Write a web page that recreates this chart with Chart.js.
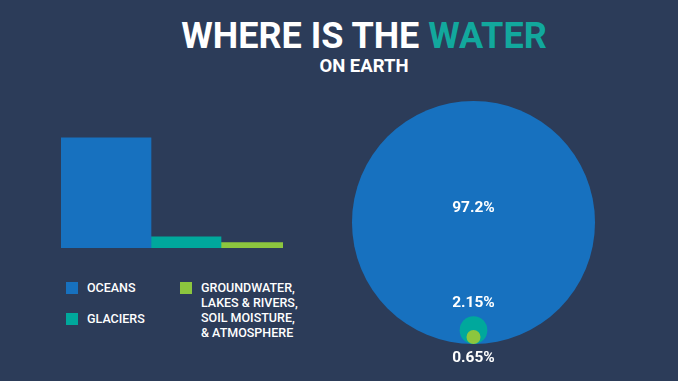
<!DOCTYPE html>
<html>
<head>
<meta charset="utf-8">
<script src="https://cdn.jsdelivr.net/npm/chart.js@4.4.1/dist/chart.umd.min.js"></script>
<style>
html,body{margin:0;padding:0;background:#2c3c59;width:678px;height:381px;overflow:hidden;font-family:Roboto,"Liberation Sans",sans-serif;}
#title{position:absolute;left:64px;width:600px;top:16px;text-align:center;color:#fff;font-weight:700;font-size:36px;line-height:40px;white-space:nowrap;}
#title .hl{color:#12a89d;}
#subtitle{position:absolute;left:64px;width:600px;top:55px;text-align:center;color:#fff;font-weight:700;font-size:18.5px;line-height:22px;}
#barCanvas{position:absolute;left:61px;top:136px;}
#bubbleCanvas{position:absolute;left:340px;top:90px;}
#legend{position:absolute;left:66px;top:280px;display:grid;grid-template-columns:114px auto;grid-template-rows:15px 15px;row-gap:16px;color:#fff;font-size:12.5px;font-weight:500;line-height:15px;}
.item{display:flex;align-items:flex-start;}
.sw{width:12px;height:12px;margin-top:1.5px;margin-right:9px;flex:none;}
</style>
</head>
<body>
<div id="title">WHERE IS THE <span class="hl">WATER</span></div>
<div id="subtitle">ON EARTH</div>
<canvas id="barCanvas" width="222" height="112"></canvas>
<canvas id="bubbleCanvas" width="267" height="285"></canvas>
<div id="legend"></div>
<script>
// ---- data ----
const categories = [['OCEANS'], ['GLACIERS'], ['GROUNDWATER,', 'LAKES & RIVERS,', 'SOIL MOISTURE,', '& ATMOSPHERE']];
const shares = [97.2, 2.15, 0.65];          // percent of Earth's water
const colors = ['#1771bf', '#00a89c', '#8cc63e'];
// ---- styles ----
const barWidths = [90, 70, 62];
const labelPlacement = ['inside', 'above', 'below'];

// power scale (compresses large values, like the original graphic)
class PowScale extends Chart.LinearScale {
  _f(v) { const p = this.options.exponent || 0.5; return Math.sign(v) * Math.pow(Math.abs(v), p); }
  getPixelForValue(value) {
    if (value === null || value === undefined) return NaN;
    const a = this._f(this.min), b = this._f(this.max);
    return this.getPixelForDecimal((this._f(value) - a) / (b - a));
  }
  getValueForPixel(pixel) {
    const d = this.getDecimalForPixel(pixel);
    const a = this._f(this.min), b = this._f(this.max);
    const t = a + d * (b - a);
    const p = this.options.exponent || 0.5;
    return Math.sign(t) * Math.pow(Math.abs(t), 1 / p);
  }
}
PowScale.id = 'pow';
PowScale.defaults = Chart.LinearScale.defaults;
Chart.register(PowScale);

// legend
const legend = document.getElementById('legend');
categories.forEach((lines, i) => {
  const it = document.createElement('div');
  it.className = 'item';
  if (lines.length === 1) { it.style.gridColumn = '1'; it.style.gridRow = String(i + 1); }
  else { it.style.gridColumn = '2'; it.style.gridRow = '1'; }
  const sw = document.createElement('div');
  sw.className = 'sw'; sw.style.background = colors[i];
  const tx = document.createElement('div');
  tx.innerHTML = lines.map(s => s.replace(/&/g, '&amp;')).join('<br>');
  it.appendChild(sw); it.appendChild(tx);
  legend.appendChild(it);
});

// bar chart
const totalW = barWidths.reduce((a, b) => a + b, 0);
let acc = 0;
const barDatasets = shares.map((v, i) => {
  const c = acc + barWidths[i] / 2; acc += barWidths[i];
  return {
    label: categories[i].join(' '),
    data: [{ x: c, y: v }],
    backgroundColor: colors[i],
    borderWidth: 0,
    barThickness: barWidths[i],
    grouped: false
  };
});
new Chart(document.getElementById('barCanvas'), {
  type: 'bar',
  data: { datasets: barDatasets },
  options: {
    responsive: false, animation: false, events: [], devicePixelRatio: 1,
    layout: { padding: 0 },
    plugins: { legend: { display: false }, tooltip: { enabled: false } },
    scales: {
      x: { type: 'linear', display: false, offset: false, min: 0, max: totalW },
      y: { type: 'pow', exponent: 0.6, display: false, min: 0, max: 100 }
    }
  }
});

// circles chart (scatter points sized by the power scale, resting on the baseline)
const labelPlugin = {
  id: 'shareLabels',
  afterDatasetsDraw(chart) {
    const ctx = chart.ctx;
    const meta = chart.getDatasetMeta(0);
    ctx.save();
    ctx.fillStyle = '#ffffff';
    ctx.font = '700 15.5px Roboto, "Liberation Sans", sans-serif';
    ctx.textAlign = 'center';
    ctx.textBaseline = 'middle';
    meta.data.forEach((el, i) => {
      const r = el.options.radius;
      let y;
      if (labelPlacement[i] === 'inside') y = el.y - 14;
      else if (labelPlacement[i] === 'above') y = el.y - r - 13;
      else y = el.y + r + 14;
      ctx.fillText(shares[i] + '%', el.x, y);
    });
    ctx.restore();
  }
};
const radiusFromScale = (ctx) => {
  const s = ctx.chart.scales.y;
  if (!s || !ctx.raw) return 0;
  const r = s.getPixelForValue(0) - s.getPixelForValue(ctx.raw.y);
  return isFinite(r) && r > 0 ? r : 0;
};
new Chart(document.getElementById('bubbleCanvas'), {
  type: 'scatter',
  data: {
    datasets: [{
      label: 'Share of water',
      data: shares.map(v => ({ x: 0, y: v })),
      pointBackgroundColor: colors,
      pointBorderWidth: 0,
      pointRadius: radiusFromScale,
      pointHoverRadius: radiusFromScale,
      pointHoverBorderWidth: 0,
      showLine: false,
      clip: false
    }]
  },
  options: {
    responsive: false, animation: false, events: [], devicePixelRatio: 1,
    layout: { autoPadding: false, padding: { top: 130.5, bottom: 31, left: 0, right: 0 } },
    plugins: { legend: { display: false }, tooltip: { enabled: false } },
    scales: {
      x: { type: 'linear', display: false, min: -1, max: 1 },
      y: { type: 'pow', exponent: 0.57, display: false, min: 0, max: 100 }
    }
  },
  plugins: [labelPlugin]
});
</script>
</body>
</html>
